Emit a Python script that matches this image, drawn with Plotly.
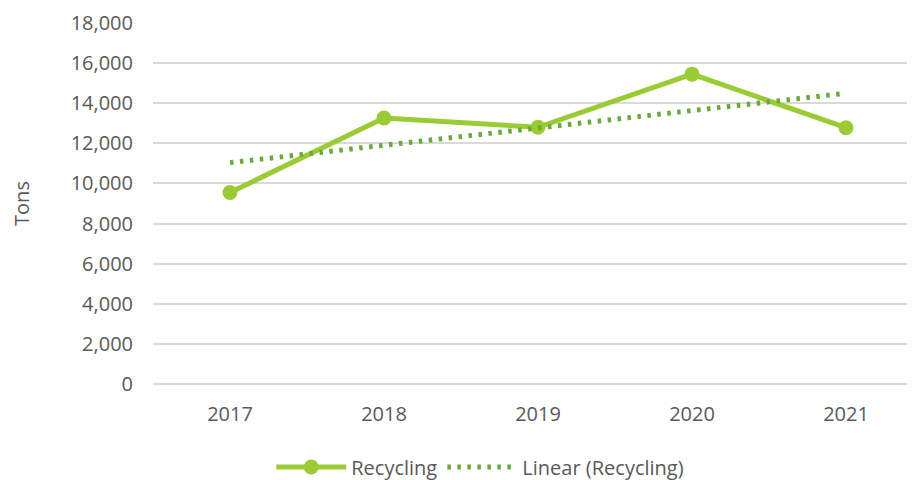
import numpy as np
import plotly.graph_objects as go

years = ["2017", "2018", "2019", "2020", "2021"]
recycling = [9550, 13260, 12800, 15450, 12780]
y_ticks = [0, 2000, 4000, 6000, 8000, 10000, 12000, 14000, 16000, 18000]

xi = np.arange(len(years))
slope, intercept = np.polyfit(xi, recycling, 1)
trend = list(slope * xi + intercept)

fig = go.Figure()
fig.add_trace(go.Scatter(
    x=years, y=recycling, name="Recycling", mode="lines+markers",
    line=dict(color="#9ACB34", width=5),
    marker=dict(color="#9ACB34", size=15),
))
fig.add_trace(go.Scatter(
    x=years, y=trend, name="Linear (Recycling)", mode="lines",
    line=dict(color="#69AA3B", width=5, dash="3.5px,6.5px"),
))

fig.update_layout(
    width=915, height=480,
    margin=dict(l=145, r=0, t=15, b=104, autoexpand=False),
    paper_bgcolor="white", plot_bgcolor="white",
    font=dict(family="Open Sans, Liberation Sans, sans-serif", size=20, color="#595959"),
    showlegend=True,
    legend=dict(orientation="h", x=0.425, xanchor="center", y=-0.23, yanchor="middle",
                itemwidth=70, font=dict(size=20, color="#595959")),
    xaxis=dict(type="category", range=[-0.5, 4.5], showgrid=False, showline=False,
               ticks="", ticklabelstandoff=16, automargin=False),
    yaxis=dict(range=[0, 18000], tickvals=y_ticks, tickformat=",d",
               showgrid=True, gridcolor="#D9D9D9", gridwidth=1.5,
               zeroline=True, zerolinecolor="#D9D9D9", zerolinewidth=1.5,
               showline=False, ticks="", ticklabelstandoff=19, automargin=False,
               title=dict(text="Tons", font=dict(size=20, color="#595959"), standoff=37)),
)

fig.write_html("out.html")
